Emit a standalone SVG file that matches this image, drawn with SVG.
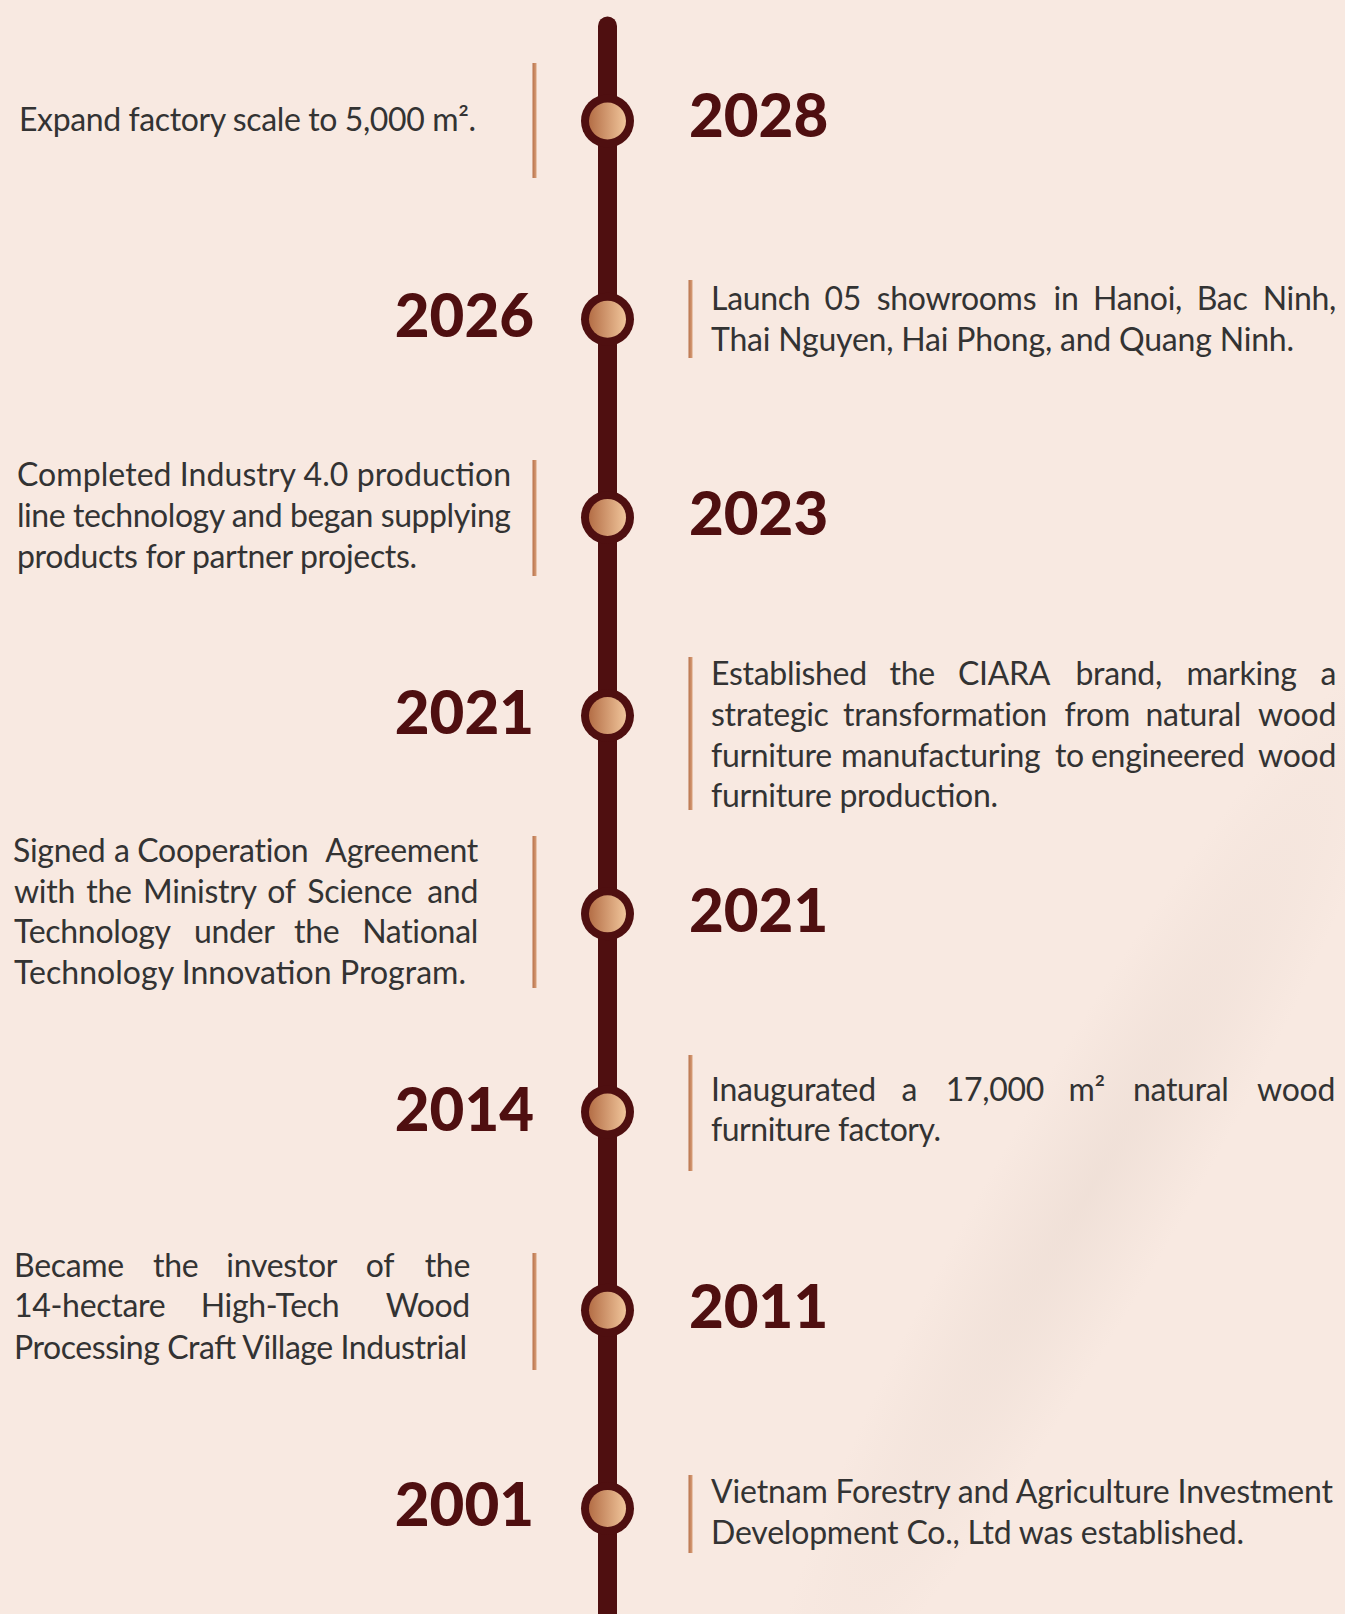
<svg xmlns="http://www.w3.org/2000/svg" width="1345" height="1614" viewBox="0 0 1345 1614">
<style>
.yr{font-family:Lato,"Noto Sans",sans-serif;font-weight:900;font-size:60px;fill:#4f0f10}
.tx{font-family:Lato,"Noto Sans",sans-serif;font-size:32px;fill:#333333}
.tw{letter-spacing:-0.3px}
.bar{fill:url(#barg)}
.ring{fill:#4f0f10}
.dot{fill:url(#dotg)}
.e{text-anchor:end}
</style>
<defs>
<linearGradient id="dotg" x1="0" y1="0" x2="1" y2="0">
<stop offset="0" stop-color="#b46e46"/>
<stop offset="1" stop-color="#f0c59b"/>
</linearGradient>
<linearGradient id="barg" x1="0" y1="0" x2="1" y2="0">
<stop offset="0" stop-color="#b8714a"/>
<stop offset="1" stop-color="#d9a07a"/>
</linearGradient>
<radialGradient id="shade" cx="0.5" cy="0.5" r="0.5">
<stop offset="0" stop-color="#e9d9d0" stop-opacity="0.55"/>
<stop offset="1" stop-color="#e9d9d0" stop-opacity="0"/>
</radialGradient>
</defs>
<rect width="1345" height="1614" fill="#f8e9e1"/>
<ellipse cx="1090" cy="1190" rx="95" ry="620" fill="url(#shade)" transform="rotate(30 1090 1190)"/>
<g id="connectors">
<line x1="607.5" y1="26" x2="607.5" y2="1620" stroke="#4f0f10" stroke-width="19" stroke-linecap="round"/>
</g>
<g id="n2028">
<circle class="ring" cx="607.5" cy="121" r="26.5"/><circle class="dot" cx="607.5" cy="121" r="18.5"/>
<text class="yr" x="689" y="137">2028</text>
<rect class="bar" x="532.5" y="63" width="4" height="115"/>
<text class="tx" x="19" y="130.5" textLength="457" lengthAdjust="spacing">Expand factory scale to 5,000 m².</text>
</g>
<g id="n2026">
<circle class="ring" cx="607.5" cy="319.2" r="26.5"/><circle class="dot" cx="607.5" cy="319.2" r="18.5"/>
<text class="yr" x="534" y="337" text-anchor="end">2026</text>
<rect class="bar" x="688.5" y="280" width="4" height="78"/>
<text class="tx tw" y="310"><tspan x="711">Launch</tspan><tspan x="824.5">05</tspan><tspan x="876.7">showrooms</tspan><tspan x="1053.6">in</tspan><tspan x="1093">Hanoi,</tspan><tspan x="1196.7">Bac</tspan><tspan class="e" x="1336">Ninh,</tspan></text>
<text class="tx" x="711" y="351" textLength="583" lengthAdjust="spacing">Thai Nguyen, Hai Phong, and Quang Ninh.</text>
</g>
<g id="n2023">
<circle class="ring" cx="607.5" cy="517.4" r="26.5"/><circle class="dot" cx="607.5" cy="517.4" r="18.5"/>
<text class="yr" x="689" y="535">2023</text>
<rect class="bar" x="532.5" y="460" width="4" height="116"/>
<text class="tx" x="17" y="485.5" textLength="494" lengthAdjust="spacing">Completed Industry 4.0 production</text>
<text class="tx" x="17" y="526.5" textLength="494" lengthAdjust="spacing">line technology and began supplying</text>
<text class="tx" x="17" y="567.5" textLength="400" lengthAdjust="spacing">products for partner projects.</text>
</g>
<g id="n2021a">
<circle class="ring" cx="607.5" cy="715.6" r="26.5"/><circle class="dot" cx="607.5" cy="715.6" r="18.5"/>
<text class="yr" x="534" y="733.5" text-anchor="end">2021</text>
<rect class="bar" x="688.5" y="657" width="4" height="153"/>
<text class="tx tw" y="685"><tspan x="711">Established</tspan><tspan x="889.5">the</tspan><tspan x="958">CIARA</tspan><tspan x="1075.5">brand,</tspan><tspan x="1186.5">marking</tspan><tspan class="e" x="1336">a</tspan></text>
<text class="tx tw" y="726"><tspan x="711">strategic</tspan><tspan x="843">transformation</tspan><tspan x="1064.5">from</tspan><tspan x="1145.5">natural</tspan><tspan class="e" x="1336">wood</tspan></text>
<text class="tx tw" y="767"><tspan x="711">furniture</tspan><tspan x="841">manufacturing</tspan><tspan x="1055">to</tspan><tspan x="1091">engineered</tspan><tspan class="e" x="1336">wood</tspan></text>
<text class="tx" x="711" y="807" textLength="287" lengthAdjust="spacing">furniture production.</text>
</g>
<g id="n2021b">
<circle class="ring" cx="607.5" cy="913.8" r="26.5"/><circle class="dot" cx="607.5" cy="913.8" r="18.5"/>
<text class="yr" x="689" y="931.5">2021</text>
<rect class="bar" x="532.5" y="836" width="4" height="152"/>
<text class="tx tw" y="861.7"><tspan x="13">Signed</tspan><tspan x="114">a</tspan><tspan x="137.3">Cooperation</tspan><tspan class="e" x="478">Agreement</tspan></text>
<text class="tx tw" y="902.7"><tspan x="14">with</tspan><tspan x="86.3">the</tspan><tspan x="143">Ministry</tspan><tspan x="267.3">of</tspan><tspan x="307.3">Science</tspan><tspan class="e" x="478">and</tspan></text>
<text class="tx tw" y="943.3"><tspan x="14">Technology</tspan><tspan x="194">under</tspan><tspan x="294">the</tspan><tspan class="e" x="478">National</tspan></text>
<text class="tx" x="14" y="984" textLength="452" lengthAdjust="spacing">Technology Innovation Program.</text>
</g>
<g id="n2014">
<circle class="ring" cx="607.5" cy="1112" r="26.5"/><circle class="dot" cx="607.5" cy="1112" r="18.5"/>
<text class="yr" x="534" y="1131" text-anchor="end">2014</text>
<rect class="bar" x="688.5" y="1055" width="4" height="116"/>
<text class="tx tw" y="1100.5"><tspan x="711">Inaugurated</tspan><tspan x="901.4">a</tspan><tspan x="945.8">17,000</tspan><tspan x="1068.4">m²</tspan><tspan x="1133">natural</tspan><tspan class="e" x="1335">wood</tspan></text>
<text class="tx" x="711" y="1141" textLength="230" lengthAdjust="spacing">furniture factory.</text>
</g>
<g id="n2011">
<circle class="ring" cx="607.5" cy="1310.2" r="26.5"/><circle class="dot" cx="607.5" cy="1310.2" r="18.5"/>
<text class="yr" x="689" y="1328">2011</text>
<rect class="bar" x="532.5" y="1253" width="4" height="117"/>
<text class="tx tw" y="1276.5"><tspan x="14">Became</tspan><tspan x="153">the</tspan><tspan x="226.3">investor</tspan><tspan x="365.7">of</tspan><tspan class="e" x="470">the</tspan></text>
<text class="tx tw" y="1317.3"><tspan x="14">14-hectare</tspan><tspan x="200.7">High-Tech</tspan><tspan class="e" x="470">Wood</tspan></text>
<text class="tx" x="14" y="1358.5" textLength="453" lengthAdjust="spacing">Processing Craft Village Industrial</text>
</g>
<g id="n2001">
<circle class="ring" cx="607.5" cy="1508.4" r="26.5"/><circle class="dot" cx="607.5" cy="1508.4" r="18.5"/>
<text class="yr" x="534" y="1526" text-anchor="end">2001</text>
<rect class="bar" x="688.5" y="1475" width="4" height="78"/>
<text class="tx" x="711" y="1503" textLength="622" lengthAdjust="spacing">Vietnam Forestry and Agriculture Investment</text>
<text class="tx" x="711" y="1544" textLength="533" lengthAdjust="spacing">Development Co., Ltd was established.</text>
</g>
</svg>
